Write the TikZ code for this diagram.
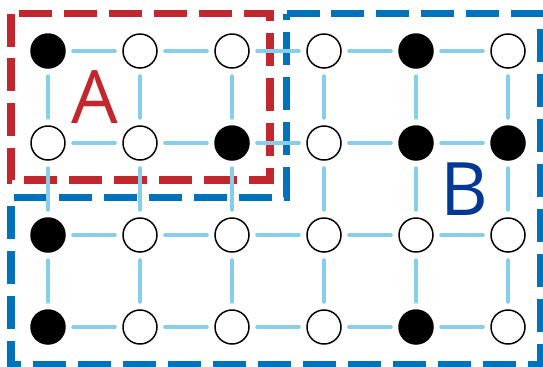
\documentclass[tikz,border=0pt]{standalone}
\usepackage{fontspec}
\setsansfont{Open Sans}
\usetikzlibrary{positioning}
\definecolor{regA}{RGB}{193,39,45}
\definecolor{regB}{RGB}{0,114,188}
\definecolor{labB}{RGB}{0,56,147}
\definecolor{link}{RGB}{135,206,235}

\begin{document}
\begin{tikzpicture}[x=.02cm,y=-.02cm,font=\sffamily,
 site/.style={circle,draw=black,line width=.85pt,minimum size=.68cm,inner sep=0pt},
 bond/.style={link,line width=2.3pt,line cap=round,shorten >=.15cm,shorten <=.15cm},
 region/.style={line width=4pt,dash pattern=on .66cm off .24cm},
 tag/.style={anchor=base,inner sep=0pt,font=\sffamily\fontsize{42}{42}\selectfont}]
 \useasboundingbox (0,0) rectangle (543,366);
 % regions
 \draw[region,regA] (11,13.5) rectangle (270,180);
 \draw[region,regB] (286.5,13.5) -- (541,13.5) -- (541,364) -- (11,364)
   -- (11,197.5) -- (286.5,197.5) -- cycle;
 % lattice sites
 \foreach \r/\row in {1/{black,white,white,white,black,white},
                      2/{white,white,black,white,black,black},
                      3/{black,white,white,white,white,white},
                      4/{black,white,white,white,black,white}}{
  \foreach \fc [count=\c] in \row
   \node[site,fill=\fc] (s\c-\r) at ({48+92*(\c-1)},{51+92*(\r-1)}) {};
 }
 % bonds
 \foreach \c [evaluate=\c as \n using int(\c+1)] in {1,...,5}
  \foreach \r in {1,...,4}
   \draw[bond] (s\c-\r) -- (s\n-\r);
 \foreach \r [evaluate=\r as \m using int(\r+1)] in {1,2,3}
  \foreach \c in {1,...,6}
   \draw[bond] (s\c-\r) -- (s\c-\m);
 \node[tag,text=regA] (labA) at (94.5,123) {A};
 \node[tag,text=labB] (labB) at (464,215) {B};
\end{tikzpicture}
\end{document}
